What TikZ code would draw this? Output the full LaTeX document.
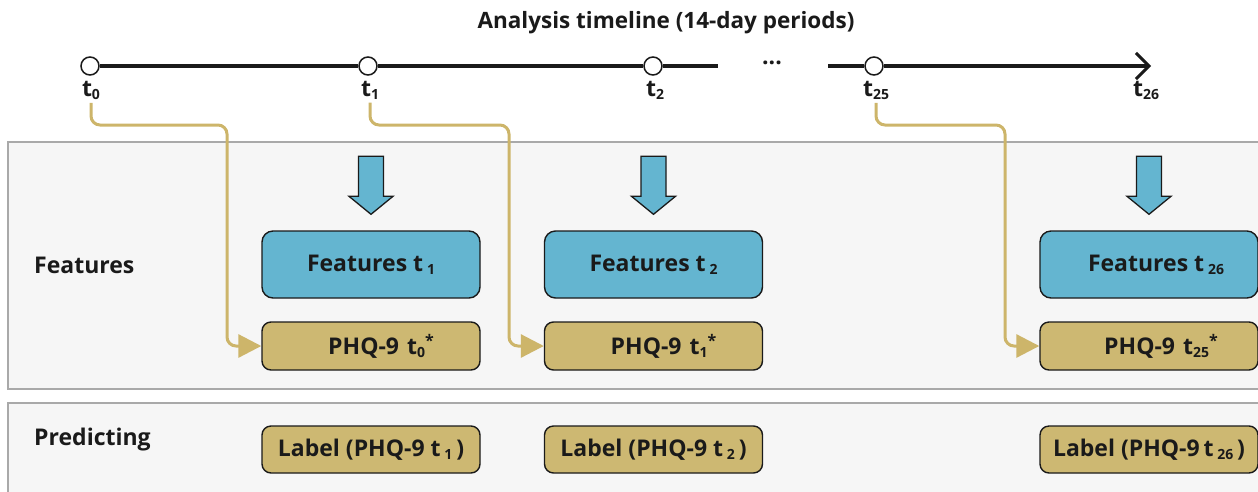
\documentclass[tikz,border=0pt]{standalone}
\usepackage{fontspec}
\setmainfont{Open Sans}
\usetikzlibrary{arrows.meta,calc}
\definecolor{ink}{HTML}{1A1A1A}
\definecolor{featblue}{HTML}{64B5D0}
\definecolor{phqgold}{HTML}{CDB872}
\definecolor{linkgold}{HTML}{CDB56A}
\definecolor{panelfill}{HTML}{F6F6F6}
\definecolor{panelline}{HTML}{A9A9A9}
\newcommand\tsub[1]{\raisebox{-3pt}{\fontsize{14}{14}\selectfont #1}}
\newcommand\tsup[1]{\raisebox{8pt}{\fontsize{16}{16}\selectfont #1}}
\tikzset{
  txt/.style={font=\fontsize{23}{27}\selectfont\bfseries, text=ink, inner sep=0pt},
  panel/.style={draw=panelline, line width=1.6pt, fill=panelfill},
  tick/.style={circle, draw=ink, fill=white, line width=1.5pt, minimum size=18pt, inner sep=0pt},
  axis/.style={draw=ink, line width=3.2pt},
  ticklabel/.style={txt, anchor=north},
  featbox/.style={txt, draw=ink, line width=1.4pt, fill=featblue, rounded corners=11pt,
                  minimum width=218pt, minimum height=67pt},
  phqbox/.style={txt, draw=ink, line width=1.4pt, fill=phqgold, rounded corners=9pt,
                 minimum width=218pt, minimum height=48pt},
  downarrow/.style={draw=ink, line width=1.3pt, fill=featblue, line join=miter},
  link/.style={draw=linkgold, line width=3pt, rounded corners=9pt,
               -{Triangle[length=23pt,width=23pt]}},
}
\begin{document}
\begin{tikzpicture}[x=1pt, y=-1pt]
\useasboundingbox (0,0) rectangle (1258,491);

% title
\node[txt, font=\fontsize{22.5}{26}\selectfont\bfseries] (title) at (666,23) {Analysis timeline (14-day periods)};

% panels
\path[panel] (8,142) rectangle (1275,389);
\path[panel] (8,403) rectangle (1275,510);
\node[txt, anchor=west] (featlbl) at (34,265) {Features};
\node[txt, anchor=west] (predlbl) at (34,440) {Predicting};

% timeline
\coordinate (gapL) at (718,66);
\coordinate (gapR) at (828,66);
\coordinate (tend) at (1151,66);
\node[tick] (t0) at (90,66) {};
\node[tick] (t1) at (368,66) {};
\node[tick] (t2) at (653,66) {};
\node[tick] (t25) at (874,66) {};
\draw[axis] (t0) -- (t1) -- (t2) -- (gapL);
\draw[axis, -{Straight Barb[length=13pt,width=26pt,line width=3pt]}] (gapR) -- (t25) -- (tend);
\node[txt, anchor=base] (dots) at (772,64) {...};

\node[ticklabel] (l0) at (91,81) {t\tsub{0}};
\node[ticklabel] (l1) at (370,81) {t\tsub{1}};
\node[ticklabel] (l2) at (655,81) {t\tsub{2}};
\node[ticklabel] (l25) at (876,81) {t\tsub{25}};
\node[ticklabel] (l26) at (1146,81) {t\tsub{26}};

% feature boxes
\node[featbox] (f1) at (371,264.5) {Features t\,\tsub{1}};
\node[featbox] (f2) at (653.5,264.5) {Features t\,\tsub{2}};
\node[featbox] (f26) at (1149,264.5) {\hspace*{14pt}Features t\,\tsub{26}};

% carried-over PHQ-9 boxes
\node[phqbox] (p0) at (371,346) {\hspace*{20pt}PHQ-9\hspace{8pt}t\tsub{0}\tsup{*}};
\node[phqbox] (p1) at (653.5,346) {\hspace*{20pt}PHQ-9\hspace{8pt}t\tsub{1}\tsup{*}};
\node[phqbox] (p25) at (1149,346) {\hspace*{24pt}PHQ-9\hspace{8pt}t\tsub{25}\tsup{*}};

% prediction labels
\node[phqbox, minimum height=47pt] (y1) at (371,449.5) {Label (PHQ-9 t\,\tsub{1}\,)};
\node[phqbox, minimum height=47pt] (y2) at (653.5,449.5) {Label (PHQ-9 t\,\tsub{2}\,)};
\node[phqbox, minimum height=47pt] (y26) at (1149,449.5) {Label (PHQ-9\,t\,\tsub{26}\,)};

% block arrows into the feature boxes
\foreach \f in {f1,f2,f26}{
  \draw[downarrow]
    ($(\f.north)+(-12.5,-74)$) -- ($(\f.north)+(12.5,-74)$) -- ($(\f.north)+(12.5,-34)$)
    -- ($(\f.north)+(22,-34)$) -- ($(\f.north)+(0,-16)$) -- ($(\f.north)+(-22,-34)$)
    -- ($(\f.north)+(-12.5,-34)$) -- cycle;
}

% links from each time point to the next period's PHQ-9 input
\coordinate (c0) at (227,125);
\coordinate (c1) at (509,125);
\coordinate (c25) at (1005,125);
\draw[link] ([yshift=-3pt]l0.south) |- (c0) |- (p0.west);
\draw[link] ([yshift=-3pt]l1.south) |- (c1) |- (p1.west);
\draw[link] ([yshift=-3pt]l25.south) |- (c25) |- (p25.west);
\end{tikzpicture}
\end{document}
